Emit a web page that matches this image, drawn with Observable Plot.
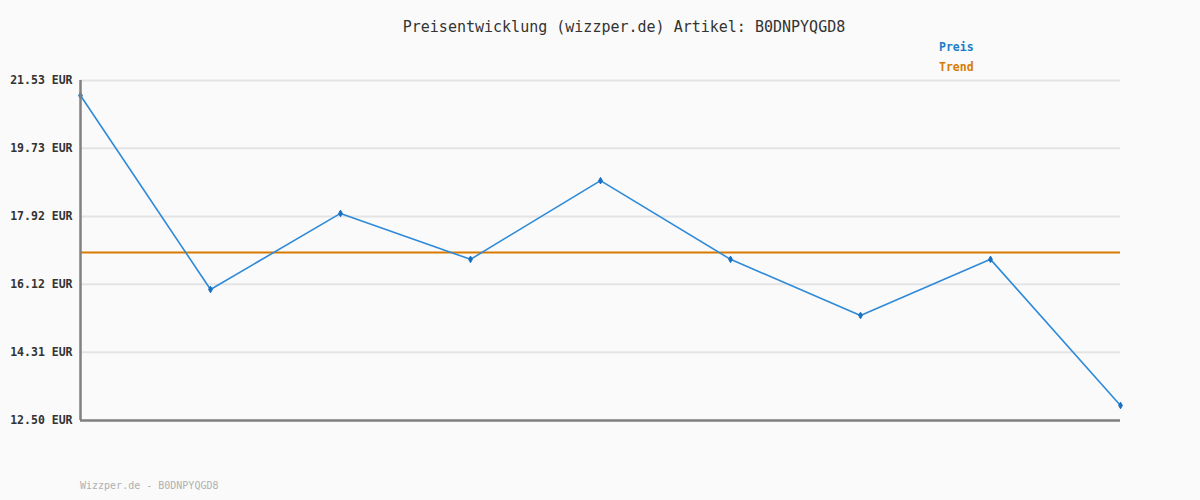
<!DOCTYPE html>
<html>
<head>
<meta charset="utf-8">
<script src="https://cdn.jsdelivr.net/npm/d3@7"></script>
<script src="https://cdn.jsdelivr.net/npm/@observablehq/plot@0.6"></script>
<style>
  html, body { margin: 0; padding: 0; background: #fafafa; }
  #wrap { position: relative; width: 1200px; height: 500px; background: #fafafa; overflow: hidden; }
  .t { position: absolute; font-family: "DejaVu Sans Mono", "Liberation Mono", monospace; white-space: nowrap; }
  #title { top: 18px; left: 0; width: 1248px; text-align: center; font-size: 15px; color: #333; }
  #leg1 { top: 40px; left: 939px; font-size: 11.5px; font-weight: bold; color: #1a7cc8; }
  #leg2 { top: 60px; left: 939px; font-size: 11.5px; font-weight: bold; color: #d97a00; }
  #foot { top: 480px; left: 80px; font-size: 10px; color: #b0b0b0; }
  #chart { position: absolute; top: 0; left: 0; }
</style>
</head>
<body>
<div id="wrap">
  <div id="chart"></div>
  <div class="t" id="title"></div>
  <div class="t" id="leg1"></div>
  <div class="t" id="leg2"></div>
  <div class="t" id="foot"></div>
</div>
<script>
const titleText = "Preisentwicklung (wizzper.de) Artikel: B0DNPYQGD8";
const footerText = "Wizzper.de - B0DNPYQGD8";
const legendLabels = ["Preis", "Trend"];
const priceIndex = [0, 1, 2, 3, 4, 5, 6, 7, 8];
const priceValues = [21.13, 15.98, 18.00, 16.78, 18.87, 16.78, 15.29, 16.78, 12.90];
const trendValue = 16.96;
const yTicks = [12.50, 14.31, 16.12, 17.92, 19.73, 21.53];

document.getElementById("title").textContent = titleText;
document.getElementById("leg1").textContent = legendLabels[0];
document.getElementById("leg2").textContent = legendLabels[1];
document.getElementById("foot").textContent = footerText;

const data = priceIndex.map((i, k) => ({ i, v: priceValues[k] }));
const xMin = priceIndex[0], xMax = priceIndex[priceIndex.length - 1];

const chart = Plot.plot({
  width: 1200,
  height: 500,
  marginTop: 80,
  marginBottom: 80,
  marginLeft: 80,
  marginRight: 80,
  style: { background: "transparent", fontFamily: "'DejaVu Sans Mono', monospace" },
  x: { domain: [xMin, xMax], axis: null },
  y: { domain: [yTicks[0], yTicks[yTicks.length - 1]], axis: null },
  marks: [
    Plot.ruleY(yTicks, { stroke: "#e4e4e4", strokeWidth: 2 }),
    Plot.axisY({
      ticks: yTicks,
      tickSize: 0,
      tickPadding: 8,
      tickFormat: d => d.toFixed(2) + " EUR",
      label: null,
      fontSize: 11.5,
      fontWeight: "bold",
      fill: "#333"
    }),
    Plot.ruleY([trendValue], { stroke: "#d97a00", strokeWidth: 2 }),
    Plot.line(data, { x: "i", y: "v", stroke: "#2e8ad8", strokeWidth: 1.6 }),
    Plot.dot(data, { x: "i", y: "v", symbol: "diamond", r: 2, fill: "#1a6fc0", stroke: "#1a6fc0", strokeWidth: 1 }),
    Plot.ruleX([xMin], { stroke: "#808080", strokeWidth: 2.5 }),
    Plot.ruleY([yTicks[0]], { stroke: "#808080", strokeWidth: 2.5 })
  ]
});
document.getElementById("chart").appendChild(chart);
</script>
</body>
</html>
